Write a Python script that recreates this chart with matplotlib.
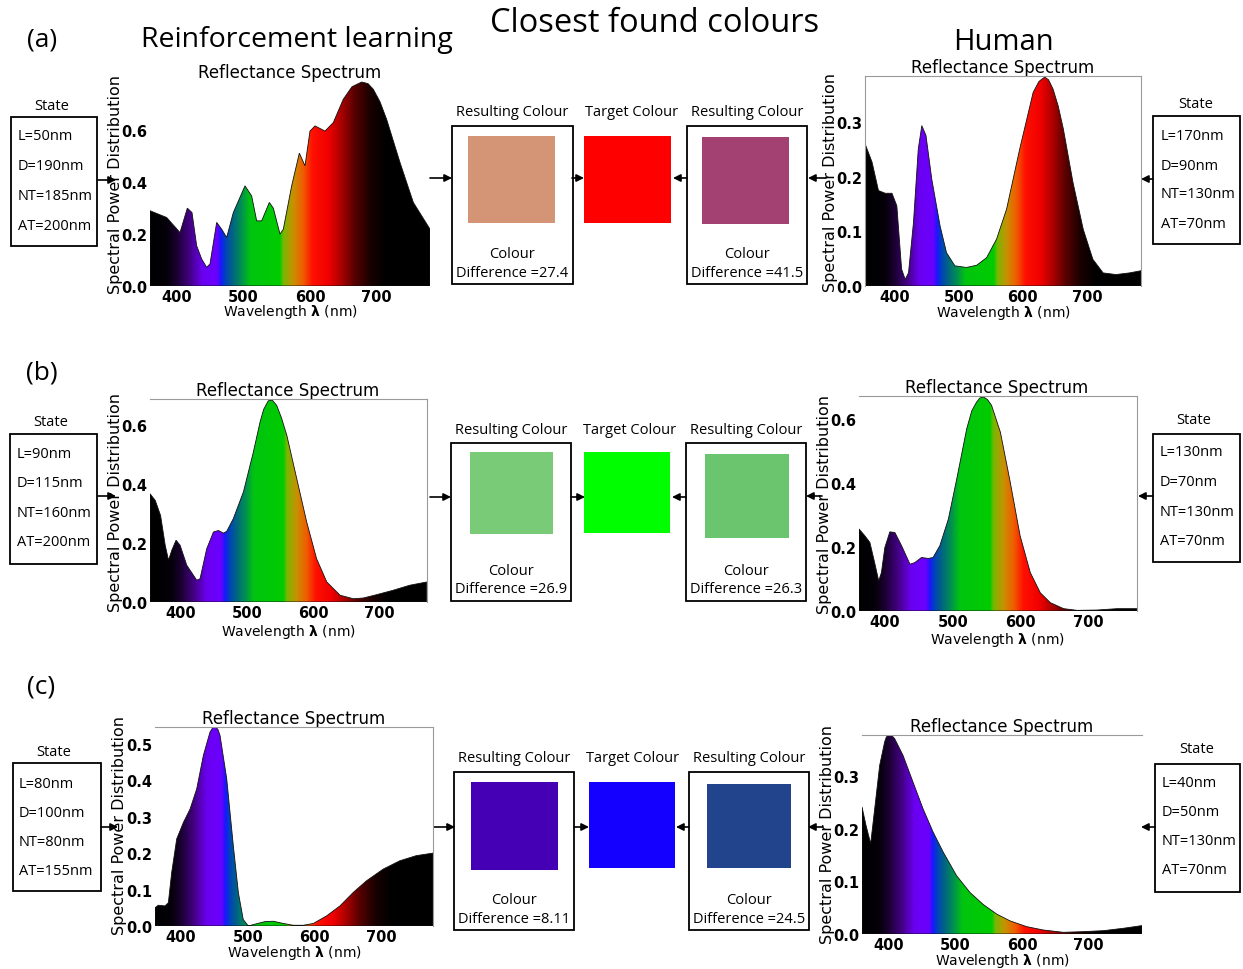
import numpy as np
import matplotlib.pyplot as plt
from matplotlib.colors import LinearSegmentedColormap
from matplotlib.patches import Rectangle, Polygon

W, H = 1243, 970

# ---- spectra (wavelength nm, spectral power) ----
# row (a) reinforcement learning
wl_a_rl = [360, 385, 405, 416, 423, 430, 437.5, 445, 450, 460, 467.5, 475, 485, 502.5,
           512.5, 520, 527.5, 539, 545, 555, 560, 572.5, 584, 592.5, 600, 607.5, 622.5,
           635, 650, 663, 677.5, 687, 695, 705, 715, 735, 755, 780]
spd_a_rl = [0.29, 0.264, 0.206, 0.30, 0.283, 0.155, 0.104, 0.072, 0.085, 0.245, 0.219,
            0.187, 0.283, 0.386, 0.347, 0.251, 0.251, 0.322, 0.30, 0.20, 0.219, 0.386,
            0.512, 0.463, 0.597, 0.617, 0.597, 0.63, 0.72, 0.768, 0.786, 0.78, 0.758,
            0.71, 0.642, 0.476, 0.322, 0.219]
# row (a) human
wl_a_hu = [355, 365, 375, 385.5, 396, 403.6, 411, 416.6, 421.8, 429.5, 437, 442.5, 449,
           458, 471, 481, 494, 512, 528, 543.5, 559, 574.6, 595, 616, 625, 634, 640, 647,
           655, 663, 678, 694, 709, 725, 745, 766, 784]
spd_a_hu = [0.258, 0.227, 0.175, 0.170, 0.170, 0.147, 0.031, 0.012, 0.024, 0.116, 0.251,
            0.294, 0.276, 0.196, 0.110, 0.061, 0.037, 0.034, 0.038, 0.052, 0.086, 0.141,
            0.251, 0.355, 0.375, 0.383, 0.378, 0.361, 0.33, 0.288, 0.190, 0.104, 0.049,
            0.024, 0.021, 0.024, 0.028]
# row (b) reinforcement learning
wl_b_rl = [353, 361, 369, 376, 381, 386, 392.4, 398.5, 408.6, 423.7, 428.7, 438.8, 449,
           456.5, 464, 469, 479, 494.3, 509.4, 519.5, 525, 532, 538, 544.7, 552, 560, 575,
           590, 605, 620.4, 640.5, 660.7, 675.8, 696, 721, 746, 771.6]
spd_b_rl = [0.368, 0.345, 0.294, 0.193, 0.142, 0.176, 0.21, 0.193, 0.125, 0.074, 0.079,
            0.181, 0.238, 0.243, 0.234, 0.240, 0.283, 0.374, 0.51, 0.612, 0.655, 0.684,
            0.686, 0.668, 0.625, 0.566, 0.419, 0.272, 0.147, 0.068, 0.023, 0.011, 0.0136,
            0.025, 0.040, 0.057, 0.068]
# row (b) human
wl_b_hu = [362, 370.5, 378, 385, 391, 395, 400, 407.4, 414.8, 424.6, 437, 444, 454, 464,
           471, 481, 493.5, 505.8, 520.5, 528, 535, 540, 545, 551, 557, 570, 584.5, 599,
           614, 628.7, 643.5, 663, 683, 712, 742, 771]
spd_b_hu = [0.256, 0.235, 0.214, 0.151, 0.094, 0.12, 0.198, 0.247, 0.245, 0.204, 0.146,
            0.151, 0.167, 0.164, 0.167, 0.204, 0.287, 0.412, 0.569, 0.625, 0.652, 0.665,
            0.668, 0.66, 0.642, 0.558, 0.402, 0.235, 0.12, 0.057, 0.026, 0.0073, 0.002,
            0.003, 0.0073, 0.0073]
# row (c) reinforcement learning
wl_c_rl = [361, 366, 376, 381, 386, 393.5, 403.5, 413.5, 423.4, 433.4, 443.3, 447,
           450.8, 455, 458.3, 468.3, 478.2, 485.7, 493, 500.6, 510.6, 525.6, 538, 553, 568,
           583, 598, 618, 637.7, 657.6, 677.5, 702.4, 727.4, 752, 777]
spd_c_rl = [0.050, 0.057, 0.055, 0.064, 0.147, 0.239, 0.284, 0.321, 0.376, 0.468, 0.532,
            0.543, 0.546, 0.54, 0.523, 0.404, 0.220, 0.092, 0.018, 0.0, 0.005, 0.012,
            0.013, 0.007, 0.002, 0.002, 0.007, 0.028, 0.055, 0.092, 0.124, 0.156, 0.179,
            0.193, 0.200]
# row (c) human
wl_c_hu = [360, 366, 373, 379, 386.5, 394, 396.5, 400, 404, 409, 421.6, 436.6, 451.7,
           466.7, 481.8, 501.9, 522, 542, 562, 582, 607, 632, 662, 692.5, 722.6, 752.7, 780]
spd_c_hu = [0.242, 0.207, 0.172, 0.238, 0.321, 0.366, 0.375, 0.380, 0.379, 0.372, 0.340,
            0.289, 0.238, 0.194, 0.156, 0.111, 0.079, 0.056, 0.038, 0.025, 0.014, 0.0076,
            0.0032, 0.0045, 0.0064, 0.011, 0.016]

# ---- states, colours, colour differences ----
states_rl = [['L=50nm', 'D=190nm', 'NT=185nm', 'AT=200nm'],
             ['L=90nm', 'D=115nm', 'NT=160nm', 'AT=200nm'],
             ['L=80nm', 'D=100nm', 'NT=80nm', 'AT=155nm']]
states_hu = [['L=170nm', 'D=90nm', 'NT=130nm', 'AT=70nm'],
             ['L=130nm', 'D=70nm', 'NT=130nm', 'AT=70nm'],
             ['L=40nm', 'D=50nm', 'NT=130nm', 'AT=70nm']]
colour_rl = ['#D39576', '#79CB78', '#4500B5']
colour_target = ['#FE0000', '#00FE00', '#1400FF']
colour_hu = ['#A34272', '#6AC56E', '#21448C']
diff_rl = ['27.4', '26.9', '8.11']
diff_hu = ['41.5', '26.3', '24.5']
row_tags = ['(a)', '(b)', '(c)']

# spectral colour map for the fill
spec_stops = [(360, '#000000'), (385, '#050009'), (400, '#1c0034'), (420, '#46008a'),
              (438, '#6a00f0'), (460, '#6a00ff'), (466, '#1818ff'), (472, '#0040c0'),
              (482, '#006088'), (497, '#009050'), (510, '#00c410'), (555, '#00cc00'),
              (560, '#78b800'), (575, '#c89000'), (590, '#f05c00'), (604, '#ff1000'),
              (628, '#f00000'), (648, '#a80000'), (668, '#550000'), (692, '#180000'),
              (715, '#000000'), (780, '#000000')]
spec_cmap = LinearSegmentedColormap.from_list(
    'spec', [((w - 360) / 420, c) for w, c in spec_stops])

plt.rcParams['font.family'] = 'DejaVu Sans'
fig = plt.figure(figsize=(W / 100, H / 100), dpi=100)

ov = fig.add_axes([0, 0, 1, 1])
ov.set_xlim(0, W)
ov.set_ylim(H, 0)
ov.axis('off')

ann = dict(family='Open Sans', color='k')


def spectrum(px, wl, spd, xlim, ytop, yticks, spines):
    x0, y0, x1, y1 = px
    ax = fig.add_axes([x0 / W, 1 - y1 / H, (x1 - x0) / W, (y1 - y0) / H])
    ax.set_facecolor('none')
    grad = np.linspace(xlim[0], xlim[1], 800)[None, :]
    im = ax.imshow(grad, cmap=spec_cmap, vmin=360, vmax=780, aspect='auto',
                   extent=(xlim[0], xlim[1], 0, ytop), interpolation='bilinear')
    poly = Polygon([(wl[0], 0)] + list(zip(wl, spd)) + [(wl[-1], 0)], closed=True,
                   fc='none', ec='#111111', lw=0.6)
    ax.add_patch(poly)
    im.set_clip_path(poly)
    ax.set_xlim(*xlim)
    ax.set_ylim(0, ytop)
    ax.set_xticks([400, 500, 600, 700])
    ax.set_yticks(yticks)
    ax.set_yticklabels([f'{v:.1f}' for v in yticks])
    ax.tick_params(length=0, pad=2, labelsize=10.5)
    for lab in ax.get_xticklabels() + ax.get_yticklabels():
        lab.set_fontweight('bold')
    for side, sp in ax.spines.items():
        sp.set_visible(side in spines)
        sp.set_color('#9a9a9a')
        sp.set_linewidth(0.8)
    return ax


def labels(cx, ty, ylx, yly, xly):
    ov.text(cx, ty, 'Reflectance Spectrum', ha='center', va='center', fontsize=12)
    ov.text(ylx, yly, 'Spectral Power Distribution', ha='center', va='center',
            rotation=90, fontsize=11.5)
    ov.text(cx, xly, r'Wavelength $\mathbf{\lambda}$ (nm)', ha='center', va='center',
            fontsize=10)


def state_box(box, title_xy, tx, tys, lines):
    x0, y0, x1, y1 = box
    ov.add_patch(Rectangle((x0, y0), x1 - x0, y1 - y0, fill=False, ec='k', lw=1.3))
    ov.text(*title_xy, 'State', ha='center', va='center', fontsize=10.5, **ann)
    for ty, s in zip(tys, lines):
        ov.text(tx, ty, s, ha='left', va='center', fontsize=10.5, **ann)


def colour_box(box, sq, colour, label_y, diff, cy, dy):
    x0, y0, x1, y1 = box
    ov.add_patch(Rectangle((x0, y0), x1 - x0, y1 - y0, fill=False, ec='k', lw=1.3))
    ov.add_patch(Rectangle((sq[0], sq[1]), sq[2] - sq[0], sq[3] - sq[1], fc=colour, ec='none'))
    cx = (x0 + x1) / 2
    ov.text(cx, label_y, 'Resulting Colour', ha='center', va='center', fontsize=10.5, **ann)
    ov.text(cx, cy, 'Colour', ha='center', va='center', fontsize=10.5, **ann)
    ov.text(cx, dy, 'Difference =' + diff, ha='center', va='center', fontsize=10.5, **ann)


def arrow(xs, xe, y):
    ov.annotate('', xy=(xe, y), xytext=(xs, y),
                arrowprops=dict(arrowstyle='-|>', color='k', lw=1.2, mutation_scale=11,
                                shrinkA=0, shrinkB=0))


# headings
ov.text(655, 24, 'Closest found colours', ha='center', va='center', fontsize=23.5, **ann)
ov.text(297, 40, 'Reinforcement learning', ha='center', va='center', fontsize=20.5, **ann)
ov.text(1003, 43, 'Human', ha='center', va='center', fontsize=21, **ann)
for tag, (tx, ty) in zip(row_tags, [(42, 40), (42, 373), (41, 687)]):
    ov.text(tx, ty, tag, ha='center', va='center', fontsize=19, **ann)

# ---- row (a) ----
spectrum((150, 82, 430, 287), wl_a_rl, spd_a_rl, (360, 780), 0.79, [0.0, 0.2, 0.4, 0.6], [])
spectrum((865, 77, 1141, 287), wl_a_hu, spd_a_hu, (354, 784), 0.385, [0.0, 0.1, 0.2, 0.3],
         ['top', 'right', 'left'])
labels(290, 73, 116, 185, 312)
labels(1003, 68, 831, 182, 313)
state_box((11, 118, 97, 247), (52, 106), 18, [137, 167, 196, 226], states_rl[0])
state_box((1153, 117, 1240, 245), (1196, 104), 1161, [137, 166, 195, 225], states_hu[0])
colour_box((452, 127, 573, 285), (468, 137, 555, 224), colour_rl[0], 113, diff_rl[0], 255, 274)
colour_box((687, 127, 807, 285), (702, 138, 789, 225), colour_hu[0], 113, diff_hu[0], 255, 274)
ov.add_patch(Rectangle((584, 137), 87, 87, fc=colour_target[0], ec='none'))
ov.text(632, 113, 'Target Colour', ha='center', va='center', fontsize=10.5, **ann)
for xs, xe, y in [(98, 116, 181), (430, 452, 179), (572, 584, 179), (687, 673, 179),
                  (826, 808, 179), (1153, 1141, 180)]:
    arrow(xs, xe, y)

# ---- row (b) ----
spectrum((150, 400, 427, 603), wl_b_rl, spd_b_rl, (353, 772), 0.69, [0.0, 0.2, 0.4, 0.6],
         ['top', 'right'])
spectrum((859, 397, 1137, 612), wl_b_hu, spd_b_hu, (362, 771), 0.671, [0.0, 0.2, 0.4, 0.6],
         ['top', 'right'])
labels(288, 391, 116, 502, 632)
labels(997, 388, 825, 505, 640)
state_box((10, 435, 97, 565), (51, 423), 17, [455, 484, 514, 543], states_rl[1])
state_box((1153, 435, 1240, 563), (1194, 421), 1160, [453, 483, 512, 542], states_hu[1])
colour_box((451, 444, 571, 602), (470, 453, 553, 535), colour_rl[1], 431, diff_rl[1], 572, 590)
colour_box((686, 444, 806, 602), (705, 455, 789, 539), colour_hu[1], 431, diff_hu[1], 572, 590)
ov.add_patch(Rectangle((584, 453), 86, 81, fc=colour_target[1], ec='none'))
ov.text(630, 431, 'Target Colour', ha='center', va='center', fontsize=10.5, **ann)
for xs, xe, y in [(98, 116, 497), (430, 451, 498), (571, 585, 498), (686, 672, 498),
                  (822, 806, 497), (1153, 1138, 497)]:
    arrow(xs, xe, y)

# ---- row (c) ----
spectrum((155, 728, 433, 927), wl_c_rl, spd_c_rl, (361, 777), 0.546,
         [0.0, 0.1, 0.2, 0.3, 0.4, 0.5], ['top', 'right'])
spectrum((862, 736, 1142, 935), wl_c_hu, spd_c_hu, (360, 780), 0.379, [0.0, 0.1, 0.2, 0.3],
         ['top'])
labels(294, 719, 120, 826, 953)
labels(1002, 727, 828, 835, 961)
state_box((13, 764, 101, 892), (54, 753), 19, [785, 814, 843, 872], states_rl[2])
state_box((1155, 765, 1240, 893), (1197, 750), 1162, [784, 813, 842, 871], states_hu[2])
colour_box((454, 773, 574, 931), (471, 783, 558, 871), colour_rl[2], 759, diff_rl[2], 901, 920)
colour_box((689, 773, 809, 931), (707, 785, 791, 869), colour_hu[2], 759, diff_hu[2], 901, 920)
ov.add_patch(Rectangle((589, 783), 86, 86, fc=colour_target[2], ec='none'))
ov.text(633, 759, 'Target Colour', ha='center', va='center', fontsize=10.5, **ann)
for xs, xe, y in [(101, 118, 828), (434, 455, 828), (574, 589, 828), (689, 676, 828),
                  (823, 808, 828), (1155, 1141, 828)]:
    arrow(xs, xe, y)

fig.savefig('out.png', dpi=100)
